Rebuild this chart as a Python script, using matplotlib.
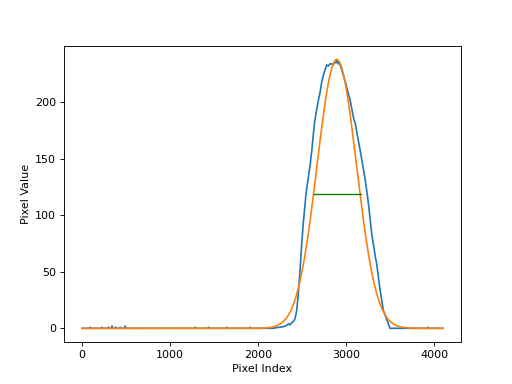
import numpy as np
import matplotlib
matplotlib.use('Agg')
import matplotlib.pyplot as plt

peak_x = [0, 2160, 2200, 2250, 2290, 2320, 2345, 2360, 2380, 2400, 2415, 2428,
          2440, 2452, 2465, 2478, 2487, 2500, 2513, 2527, 2540, 2555, 2570, 2590,
          2608, 2625, 2638, 2660, 2684, 2705, 2721, 2740, 2760, 2778, 2795, 2815,
          2835, 2850, 2865, 2880, 2892, 2905, 2918, 2930, 2950, 2970, 2986, 3005,
          3025, 3043, 3065, 3088, 3100, 3125, 3156, 3185, 3213, 3235, 3250, 3270,
          3288, 3310, 3330, 3345, 3365, 3383, 3400, 3420, 3430, 3495, 4095]
peak_y = [0, 0, 0.5, 1, 1.5, 2.5, 4, 3, 5, 6, 8, 12,
          18, 28, 41, 55, 67, 81, 94, 106, 117, 126, 134, 145,
          157, 171, 181, 192, 202, 210, 218, 224, 229, 233, 232, 234,
          234, 233, 235, 235, 237, 234, 235, 233, 228, 223, 219, 213,
          207, 202, 193, 184, 182, 171, 158, 145, 132, 120, 111, 97,
          84, 73, 63, 57, 45, 34, 26, 16, 14, 0, 0]

# small blips on the flat baseline
spike_x = [94, 225, 300, 340, 380, 434, 491, 1285, 1435, 1643, 1909, 3927]
spike_y = [1, 1, 1, 2, 1, 1, 2, 1, 1, 1, 1, 1]

# gaussian fit result and half-max line
fit_amp = 237.8
fit_center = 2892.0
fit_sigma = 224.0
half_max = 119.0
fwhm_left = 2628
fwhm_right = 3170

# add baseline blips into the trace
xs = list(peak_x)
ys = list(peak_y)
for sx, sy in zip(spike_x, spike_y):
    xs += [sx - 2, sx, sx + 2]
    ys += [0, sy, 0]
order = np.argsort(xs, kind='stable')
xs = np.array(xs)[order]
ys = np.array(ys)[order]

xfit = np.arange(4096)
yfit = fit_amp * np.exp(-(xfit - fit_center)**2 / (2 * fit_sigma**2))

fig = plt.figure(figsize=(6.4, 4.8), dpi=80)
plt.plot(xs, ys)
plt.plot(xfit, yfit)
plt.plot([fwhm_left, fwhm_right], [half_max, half_max], color='g', lw=1.2)
plt.xlabel('Pixel Index')
plt.ylabel('Pixel Value')
plt.savefig('out.png', dpi=80)
